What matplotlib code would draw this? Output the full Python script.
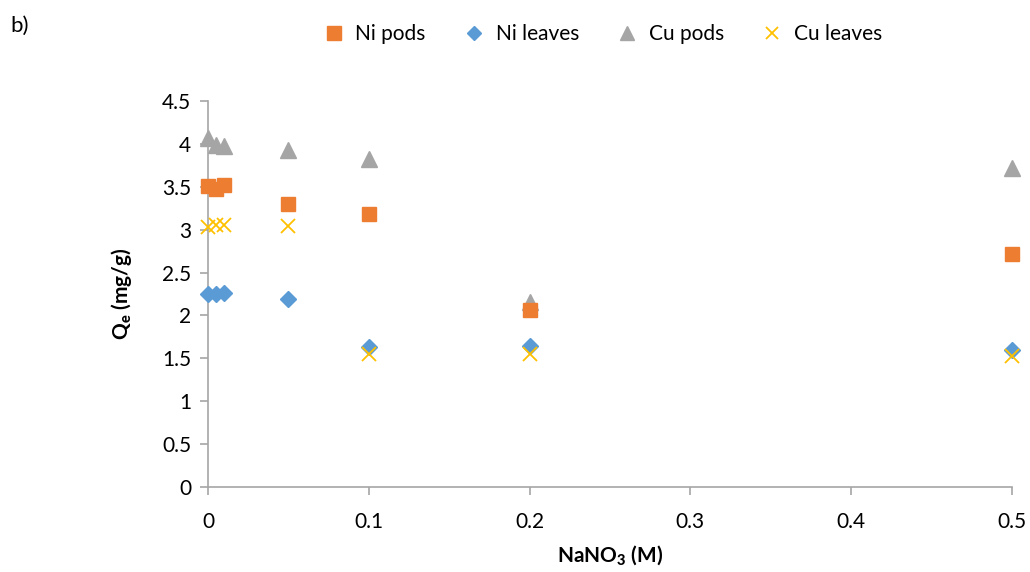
import matplotlib

matplotlib.use('Agg')
import matplotlib.pyplot as plt

plt.rcParams['font.family'] = ['Lato', 'DejaVu Sans']
plt.rcParams['mathtext.fontset'] = 'custom'
plt.rcParams['mathtext.rm'] = 'Lato'
plt.rcParams['mathtext.bf'] = 'Lato:weight=black'

# NaNO3 concentration (M)
nano3 = [0, 0.005, 0.01, 0.05, 0.1, 0.2, 0.5]

ni_pods = [3.51, 3.48, 3.52, 3.30, 3.18, 2.06, 2.72]
ni_leaves = [2.25, 2.25, 2.26, 2.19, 1.63, 1.64, 1.60]
cu_pods = [4.07, 3.99, 3.97, 3.93, 3.82, 2.16, 3.72]
cu_leaves = [3.03, 3.05, 3.06, 3.04, 1.55, 1.55, 1.53]

x_ticks = [0, 0.1, 0.2, 0.3, 0.4, 0.5]
y_ticks = [0, 0.5, 1, 1.5, 2, 2.5, 3, 3.5, 4, 4.5]

fig = plt.figure(figsize=(10.3, 5.72), dpi=100)
ax = fig.add_axes([0.202, 0.1486, 0.7805, 0.6748])

ax.plot(nano3, ni_pods, 's', color='#ED7D31', markersize=10.5, label='Ni pods',
        zorder=3, clip_on=False)
ax.plot(nano3, ni_leaves, 'D', color='#5B9BD5', markersize=8, label='Ni leaves',
        zorder=4, clip_on=False)
ax.plot(nano3, cu_pods, '^', color='#A5A5A5', markersize=11, label='Cu pods',
        zorder=2, clip_on=False)
ax.plot(nano3, cu_leaves, 'x', color='#FFC000', markersize=10, markeredgewidth=1.3,
        label='Cu leaves', zorder=5, clip_on=False)

ax.set_xlim(0, 0.5)
ax.set_ylim(0, 4.5)
ax.set_xticks(x_ticks)
ax.set_xticklabels(['0', '0.1', '0.2', '0.3', '0.4', '0.5'])
ax.set_yticks(y_ticks)
ax.set_yticklabels(['0', '0.5', '1', '1.5', '2', '2.5', '3', '3.5', '4', '4.5'])

for side in ['top', 'right']:
    ax.spines[side].set_visible(False)
for side in ['left', 'bottom']:
    ax.spines[side].set_color('#A6A6A6')
    ax.spines[side].set_linewidth(1.2)
ax.tick_params(axis='both', colors='#A6A6A6', length=6, width=1.2, labelsize=15,
               labelcolor='black', direction='out')
ax.tick_params(axis='x', pad=12)
ax.tick_params(axis='y', pad=6)

ax.set_xlabel(r'NaNO$\mathbf{_3}$ (M)', fontsize=15, fontweight='bold', labelpad=8)
ax.set_ylabel(r'Q$\mathbf{_e}$ (mg/g)', fontsize=15, fontweight='bold', labelpad=20)

fig.legend(loc='center', bbox_to_anchor=(0.58, 0.94), ncol=4, frameon=False,
           fontsize=15, handletextpad=0.05, columnspacing=1.3, markerscale=0.9)

fig.text(0.01, 0.955, 'b)', fontsize=16, va='center')

fig.savefig('out.png', dpi=100)
